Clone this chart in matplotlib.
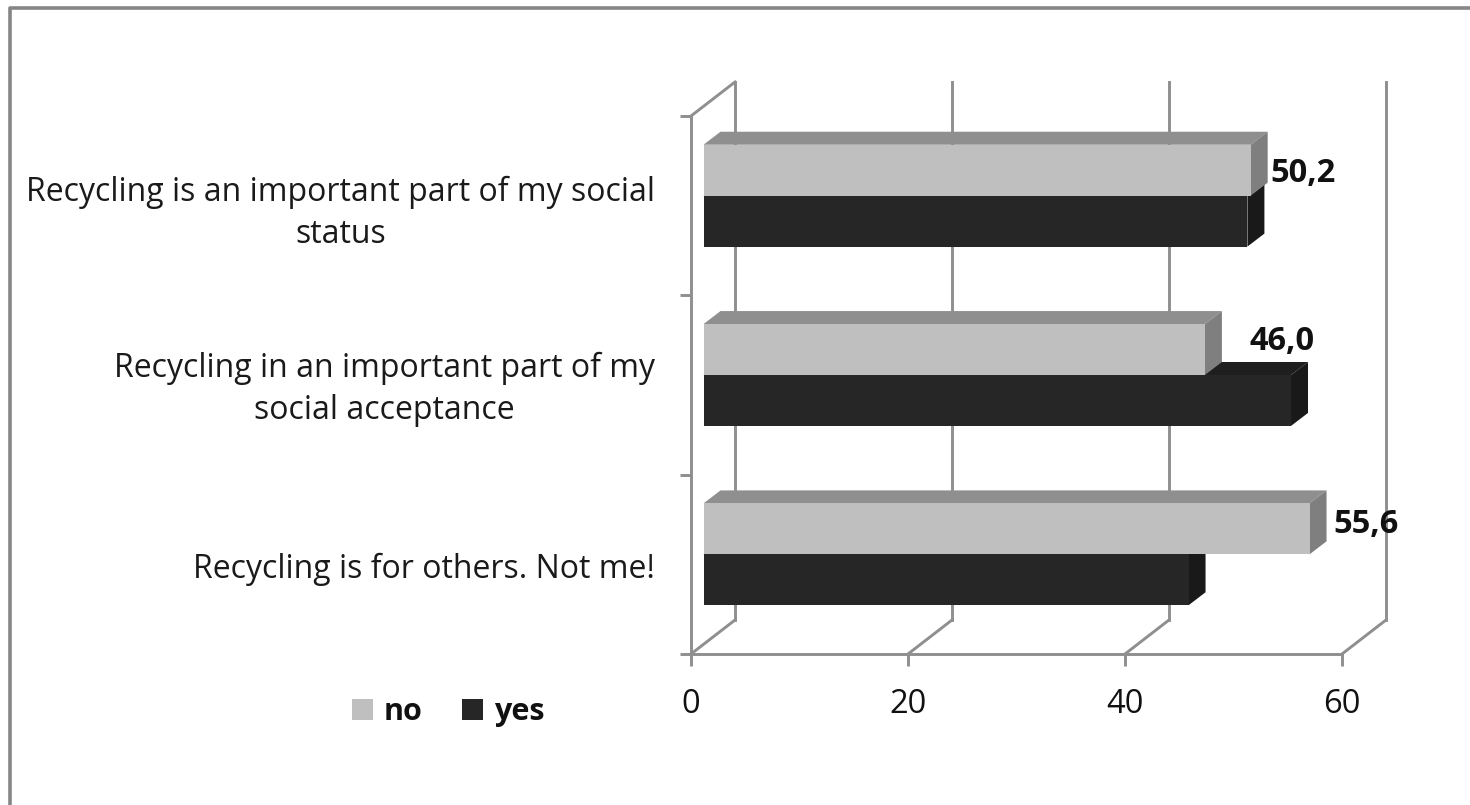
# 3D-look horizontal bars for the recycling attitude questions
import matplotlib
matplotlib.use('Agg')
import matplotlib.pyplot as plt
from matplotlib.lines import Line2D
from matplotlib.patches import Patch
from matplotlib.transforms import Affine2D

plt.rcParams['font.family'] = ['Open Sans', 'DejaVu Sans']

W, H = 1470, 805

categories = ['Recycling is for others. Not me!',
              'Recycling in an important part of my\nsocial acceptance',
              'Recycling is an important part of my social\nstatus']
no_values = [55.6, 46.0, 50.2]
yes_values = [44.5, 53.9, 49.9]
no_labels = ['55,6', '46,0', '50,2']
x_ticks = [0, 20, 40, 60]

GRID = '#8f8f8f'
LW = 2.1
NO_COL = ('#bfbfbf', '#8f8f8f', '#7f7f7f')     # front, top, side
YES_COL = ('#262626', '#1f1f1f', '#191919')


def px_axes(fig, left, right, top, bottom):
    # axes box given in pixels measured from the top left
    return fig.add_axes([left / W, 1 - bottom / H, (right - left) / W, (bottom - top) / H])


fig = plt.figure(figsize=(W / 100, H / 100), dpi=100)

# outer chart border, only top and left fall inside the canvas
fig.add_artist(Line2D([9.5 / W, 9.5 / W, 1], [0, 1 - 8.5 / H, 1 - 8.5 / H],
                      color='#868686', lw=2.6, transform=fig.transFigure))

# axis box
ax = px_axes(fig, 691, 1342, 116, 654)
ax.set_xlim(0, 60)
ax.set_ylim(0, 3)
ax.patch.set_alpha(0)
for s in ['top', 'right']:
    ax.spines[s].set_visible(False)
for s in ['left', 'bottom']:
    ax.spines[s].set_color(GRID)
    ax.spines[s].set_linewidth(LW)

ax.set_xticks(x_ticks)
ax.tick_params(axis='x', length=8.5, width=LW, color=GRID, labelsize=23.5, pad=16, labelcolor='#111111')
ax.set_yticks([0, 1, 2, 3])
ax.tick_params(axis='y', which='major', length=8, width=LW, color=GRID, labelleft=False)
ax.set_yticks([0.495, 1.525, 2.507], minor=True)
ax.set_yticklabels(categories, minor=True, ha='right', ma='center', fontsize=23, color='#1a1a1a',
                   linespacing=1.38)
ax.tick_params(axis='y', which='minor', length=0, pad=26)

# back wall gridlines and the diagonals joining them to the front plane
wall = ax.transData + Affine2D().translate(44, 34)
for t in x_ticks:
    ax.plot([t, t], [0, 3], color=GRID, lw=LW, transform=wall, clip_on=False, zorder=1)
    ax.plot([t, t + 44 * 60 / 651], [0, 34 * 3 / 538], color=GRID, lw=LW, clip_on=False, zorder=1)
ax.plot([0, 44 * 60 / 651], [3, 3 + 34 * 3 / 538], color=GRID, lw=LW, clip_on=False, zorder=1)

# bars live on their own axes, set slightly in from the front plane
bx = px_axes(fig, 703.5, 703.5 + 10.9 * 60, 106, 644)
bx.set_xlim(0, 60)
bx.set_ylim(0, 3)
bx.axis('off')

BAR_H = 0.284
DX = 17 / 10.9
DY = 13 / (538 / 3)


def box(base, value, cols, z):
    top = base + BAR_H
    bx.fill([0, DX, value + DX, value], [top, top + DY, top + DY, top], color=cols[1], lw=0, zorder=z, clip_on=False)
    bx.fill([value, value + DX, value + DX, value], [base, base + DY, top + DY, top], color=cols[2], lw=0, zorder=z, clip_on=False)
    bx.barh(base, value, BAR_H, align='edge', color=cols[0], zorder=z + 0.1)


centers = [0.5, 1.5, 2.5]
label_shift = [(24, 33), (45, 36), (20, 25)]
for c, n, y, lab, off in zip(centers, no_values, yes_values, no_labels, label_shift):
    box(c - BAR_H, y, YES_COL, 2)
    box(c, n, NO_COL, 3)
    bx.annotate(lab, (n, c), xytext=(off[0] * 0.72, off[1] * 0.72 - 2), textcoords='offset points',
                fontsize=23.5, fontweight='bold', color='#111111', va='center', zorder=5, annotation_clip=False)

handles = [Patch(facecolor=NO_COL[0], label='no'), Patch(facecolor=YES_COL[0], label='yes')]
fig.legend(handles=handles, ncol=2, frameon=False, loc='center', bbox_to_anchor=(448 / W, 1 - 712 / H),
           prop={'size': 22, 'weight': 'bold'}, handlelength=0.69, handleheight=0.69,
           handletextpad=0.35, columnspacing=1.3, labelcolor='#111111')

fig.savefig('out.png', dpi=100)
